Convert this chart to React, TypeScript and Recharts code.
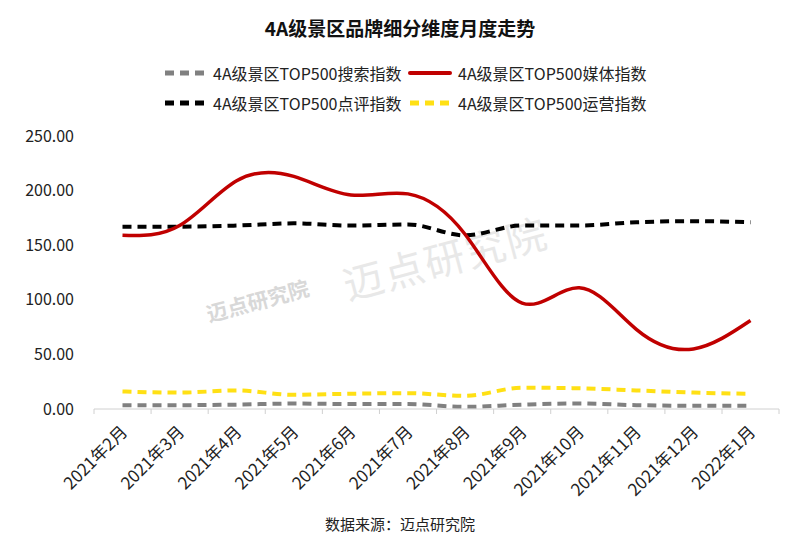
import React from "react";
import { LineChart, Line, XAxis, YAxis } from "recharts";

const months = ["2021年2月","2021年3月","2021年4月","2021年5月","2021年6月","2021年7月","2021年8月","2021年9月","2021年10月","2021年11月","2021年12月","2022年1月"];
const searchIdx = [3.5, 3.5, 4, 5, 4.5, 4.5, 2, 4, 5, 3.5, 3, 3];
const mediaIdx = [159, 168, 209, 213, 196, 197, 160, 97, 111, 73, 55, 81];
const reviewIdx = [167, 167, 168, 170, 168, 169, 159, 168, 168, 171, 172, 171];
const opsIdx = [16, 15, 17, 13, 14, 14.5, 12, 19.5, 19, 17, 15, 14];
const yTicks = [0, 50, 100, 150, 200, 250];

const seriesNames = ["4A级景区TOP500搜索指数", "4A级景区TOP500媒体指数", "4A级景区TOP500点评指数", "4A级景区TOP500运营指数"];

const data = months.map((m, i) => ({
  month: m,
  search: searchIdx[i],
  media: mediaIdx[i],
  review: reviewIdx[i],
  ops: opsIdx[i],
}));

const FONT = "'Noto Sans CJK SC', 'Noto Sans', sans-serif";
const BAND = 57;

const XTick = (props: any) => {
  const { x, y, payload } = props;
  const ay = y - 8;
  return (
    <g>
      <line x1={x - BAND / 2} y1={ay} x2={x - BAND / 2} y2={ay + 5} stroke="#d0d0d0" />
      {payload.index === months.length - 1 && (
        <line x1={x + BAND / 2} y1={ay} x2={x + BAND / 2} y2={ay + 5} stroke="#d0d0d0" />
      )}
      <text
        x={x + 6}
        y={ay + 24}
        textAnchor="end"
        transform={`rotate(-45, ${x + 6}, ${ay + 24})`}
        fontSize={17}
        fill="#222"
        fontFamily={FONT}
      >
        {payload.value}
      </text>
    </g>
  );
};

const LegendItem = ({ color, dashed, label }: { color: string; dashed: boolean; label: string }) => (
  <div style={{ display: "flex", alignItems: "center", width: 245 }}>
    <svg width={44} height={10} style={{ marginRight: 6 }}>
      <line x1={2} y1={5} x2={42} y2={5} stroke={color} strokeWidth={dashed ? 5 : 4}
        strokeDasharray={dashed ? "9 6" : undefined} strokeLinecap={dashed ? "butt" : "round"} />
    </svg>
    <span style={{ fontSize: 16, color: "#222", fontFamily: FONT }}>{label}</span>
  </div>
);

export default function App() {
  return (
    <div style={{ position: "absolute", left: 0, top: 0, width: 800, height: 546, background: "#fff", fontFamily: FONT }}>
      <div style={{ position: "absolute", top: 14, width: 800, textAlign: "center", fontSize: 19, fontWeight: 700, color: "#111" }}>
        4A级景区品牌细分维度月度走势
      </div>
      <div style={{ position: "absolute", left: 163, top: 61, width: 500 }}>
        <div style={{ display: "flex" }}>
          <LegendItem color="#808080" dashed label={seriesNames[0]} />
          <LegendItem color="#c00000" dashed={false} label={seriesNames[1]} />
        </div>
        <div style={{ display: "flex", marginTop: 6 }}>
          <LegendItem color="#000000" dashed label={seriesNames[2]} />
          <LegendItem color="#ffe014" dashed label={seriesNames[3]} />
        </div>
      </div>
      <div style={{ position: "absolute", left: 340, top: 228, fontSize: 40, color: "#e8e8e8", transform: "rotate(-15deg)", letterSpacing: 2 }}>
        迈点研究院
      </div>
      <div style={{ position: "absolute", left: 205, top: 285, fontSize: 21, color: "#d8d8d8", transform: "rotate(-15deg)", fontWeight: 700 }}>
        迈点研究院
      </div>
      <div style={{ position: "absolute", left: 0, top: 0 }}>
        <LineChart width={800} height={546} data={data} margin={{ top: 136, right: 21, bottom: 0, left: 0 }}>
          <XAxis dataKey="month" axisLine={{ stroke: "#d0d0d0" }} tickLine={false} tick={<XTick />} interval={0}
            height={137} padding={{ left: BAND / 2, right: BAND / 2 }} />
          <YAxis domain={[0, 250]} ticks={yTicks} axisLine={false} tickLine={false} width={94}
            tickFormatter={(v: number) => v.toFixed(2)}
            tick={{ fontSize: 16, fill: "#222", fontFamily: FONT, dx: -12 }} />
          <Line dataKey="search" type="monotone" stroke="#808080" strokeWidth={4} strokeDasharray="9 6" dot={false} isAnimationActive={false} />
          <Line dataKey="ops" type="monotone" stroke="#ffe014" strokeWidth={4} strokeDasharray="9 6" dot={false} isAnimationActive={false} />
          <Line dataKey="review" type="monotone" stroke="#000000" strokeWidth={4} strokeDasharray="9 6" dot={false} isAnimationActive={false} />
          <Line dataKey="media" type="natural" stroke="#c00000" strokeWidth={3.5} dot={false} isAnimationActive={false} />
        </LineChart>
      </div>
      <div style={{ position: "absolute", top: 513, width: 800, textAlign: "center", fontSize: 15, color: "#222" }}>
        数据来源：迈点研究院
      </div>
    </div>
  );
}
